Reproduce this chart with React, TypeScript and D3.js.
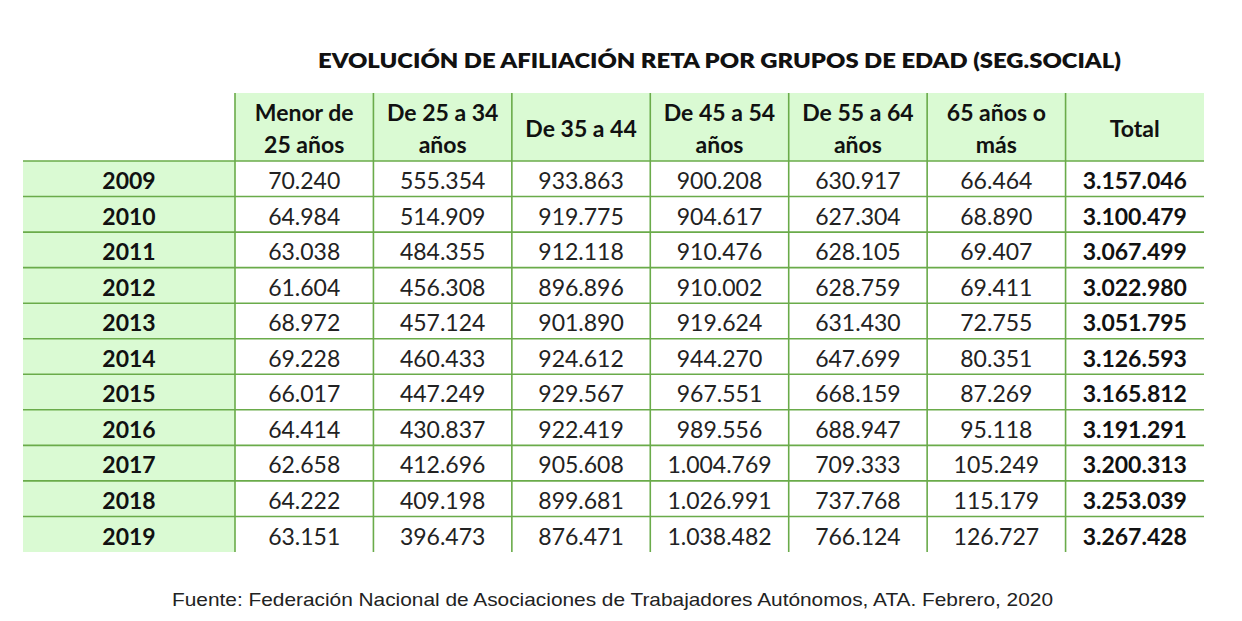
import React from "react";
import * as d3 from "d3";

const title = "EVOLUCIÓN DE AFILIACIÓN RETA POR GRUPOS DE EDAD (SEG.SOCIAL)";
const source = "Fuente: Federación Nacional de Asociaciones de Trabajadores Autónomos, ATA. Febrero, 2020";

const columns: string[][] = [
  ["Menor de", "25 años"],
  ["De 25 a 34", "años"],
  ["De 35 a 44"],
  ["De 45 a 54", "años"],
  ["De 55 a 64", "años"],
  ["65 años o", "más"],
  ["Total"],
];

const years = ["2009", "2010", "2011", "2012", "2013", "2014", "2015", "2016", "2017", "2018", "2019"];

const menor25 = ["70.240", "64.984", "63.038", "61.604", "68.972", "69.228", "66.017", "64.414", "62.658", "64.222", "63.151"];
const de25a34 = ["555.354", "514.909", "484.355", "456.308", "457.124", "460.433", "447.249", "430.837", "412.696", "409.198", "396.473"];
const de35a44 = ["933.863", "919.775", "912.118", "896.896", "901.890", "924.612", "929.567", "922.419", "905.608", "899.681", "876.471"];
const de45a54 = ["900.208", "904.617", "910.476", "910.002", "919.624", "944.270", "967.551", "989.556", "1.004.769", "1.026.991", "1.038.482"];
const de55a64 = ["630.917", "627.304", "628.105", "628.759", "631.430", "647.699", "668.159", "688.947", "709.333", "737.768", "766.124"];
const mas65 = ["66.464", "68.890", "69.407", "69.411", "72.755", "80.351", "87.269", "95.118", "105.249", "115.179", "126.727"];
const total = ["3.157.046", "3.100.479", "3.067.499", "3.022.980", "3.051.795", "3.126.593", "3.165.812", "3.191.291", "3.200.313", "3.253.039", "3.267.428"];

const series = [menor25, de25a34, de35a44, de45a54, de55a64, mas65, total];

const FILL = "#dafad3";
const LINE = "#6aab4a";
const FONT = "Lato, 'Open Sans', sans-serif";

export default function App() {
  const W = 1242;
  const H = 621;
  const left = 23;
  const colStart = 235;
  const right = 1204;
  const headTop = 93;
  const headBottom = 161;
  const bottom = 552;

  const colKeys = columns.map((_, i) => String(i));
  const x = d3.scaleBand<string>().domain(colKeys).range([colStart, right]).padding(0);
  const y = d3.scaleBand<string>().domain(years).range([headBottom, bottom]).padding(0);
  const fs = 23;
  const dy = fs * 0.36 + 2;

  return (
    <svg width={W} height={H} style={{ position: "absolute", left: 0, top: 0, background: "#fff" }}>
      <rect x={0} y={0} width={W} height={H} fill="#ffffff" />
      <text
        x={719.5}
        y={68}
        textAnchor="middle"
        fontFamily={FONT}
        fontWeight={800}
        fontSize={21}
        fill="#111"
        textLength={803}
        lengthAdjust="spacingAndGlyphs"
      >
        {title}
      </text>

      <rect x={colStart} y={headTop} width={right - colStart} height={headBottom - headTop} fill={FILL} />
      <rect x={left} y={headBottom} width={colStart - left} height={bottom - headBottom} fill={FILL} />

      {years.map((yr) => (
        <line key={"h" + yr} x1={left} x2={right} y1={y(yr)!} y2={y(yr)!} stroke={LINE} strokeWidth={1.6} />
      ))}
      {colKeys.map((k) => (
        <line key={"v" + k} x1={x(k)!} x2={x(k)!} y1={headTop} y2={bottom} stroke={LINE} strokeWidth={1.6} />
      ))}

      {columns.map((lines, i) => {
        const cx = x(String(i))! + x.bandwidth() / 2;
        const cy = (headTop + headBottom) / 2;
        const lh = 32;
        return (
          <text key={"c" + i} textAnchor="middle" fontFamily={FONT} fontWeight={700} fontSize={fs} fill="#111">
            {lines.map((ln, j) => (
              <tspan key={j} x={cx} y={cy + (j - (lines.length - 1) / 2) * lh + dy}>
                {ln}
              </tspan>
            ))}
          </text>
        );
      })}

      {years.map((yr) => (
        <text
          key={"r" + yr}
          x={(left + colStart) / 2}
          y={y(yr)! + y.bandwidth() / 2 + dy}
          textAnchor="middle"
          fontFamily={FONT}
          fontWeight={700}
          fontSize={fs}
          fill="#111"
        >
          {yr}
        </text>
      ))}

      {series.map((vals, ci) =>
        vals.map((v, ri) => (
          <text
            key={ci + "-" + ri}
            x={x(String(ci))! + x.bandwidth() / 2}
            y={y(years[ri])! + y.bandwidth() / 2 + dy}
            textAnchor="middle"
            fontFamily={FONT}
            fontWeight={ci === series.length - 1 ? 700 : 400}
            fontSize={fs}
            fill={ci === series.length - 1 ? "#111" : "#222"}
          >
            {v}
          </text>
        ))
      )}

      <text
        x={612.5}
        y={606}
        textAnchor="middle"
        fontFamily="'Liberation Sans', Arial, sans-serif"
        fontSize={18.5}
        fill="#222"
        textLength={881}
        lengthAdjust="spacingAndGlyphs"
      >
        {source}
      </text>
    </svg>
  );
}
